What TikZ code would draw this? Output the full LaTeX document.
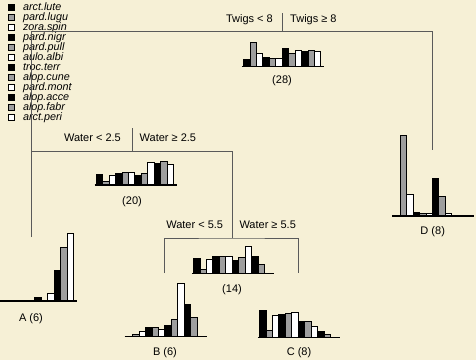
\documentclass[tikz,border=0pt]{standalone}
\usepackage{fontspec}
\setmainfont{Liberation Sans}
\usetikzlibrary{positioning}

\definecolor{paper}{RGB}{246,240,214}
\definecolor{stipple}{RGB}{158,158,158}
\definecolor{branchgray}{RGB}{90,90,90}

% one histogram: name, x, y of baseline, 12 bar heights
\newcommand{\histo}[4]{%
  \coordinate (#1) at (#2,#3);
  \foreach \h [count=\idx from 0] in {#4} {%
    \pgfmathtruncatemacro{\tone}{mod(\idx,3)}%
    \ifdim\h pt>0pt \draw[bar\tone] ([xshift={\idx*6.45pt}]#1) rectangle ++(6.45,-\h);\fi
  }
  \draw[histaxis] ([xshift=-1.5pt]#1) -- ++(82,0);
}

\begin{document}
\begin{tikzpicture}[x=1pt,y=-1pt,
  branch/.style={draw=branchgray,line width=0.8pt},
  histaxis/.style={draw=black,line width=1.3pt},
  bar0/.style={draw=black,line width=0.5pt,fill=black},
  bar1/.style={draw=black,line width=0.5pt,fill=stipple},
  bar2/.style={draw=black,line width=0.5pt,fill=white},
  splitlabel/.style={inner sep=0pt,font=\fontsize{11}{13}\selectfont},
  ncount/.style={inner sep=0pt,anchor=base,font=\fontsize{11}{13}\selectfont},
  legbox/.style={minimum size=6.5pt,inner sep=0pt},
  legtext/.style={inner sep=0pt,font=\fontsize{10.8}{12}\selectfont\itshape,text height=7.5pt,text depth=0pt}]
  \path[use as bounding box,fill=paper] (0,0) rectangle (476,360);
  \clip (0,0) rectangle (476,360);

  % legend
  \foreach \spname [count=\idx from 0] in {arct.lute,pard.lugu,zora.spin,pard.nigr,pard.pull,aulo.albi,troc.terr,alop.cune,pard.mont,alop.acce,alop.fabr,arct.peri} {
    \pgfmathtruncatemacro{\tone}{mod(\idx,3)}
    \node[legbox,bar\tone] (box\idx) at (11.3,{7+10*\idx}) {};
    \node[legtext,right=8pt of box\idx] (sp\idx) {\spname};
  }

  % tree
  \coordinate (twigs) at (282,31);
  \coordinate (twigstop) at (282,13);
  \coordinate (water25) at (132,151);
  \coordinate (water25top) at (132,128);
  \coordinate (water55) at (232,238);
  \coordinate (leafA) at (31,237);
  \coordinate (leafB) at (164,273);
  \coordinate (leafC) at (298,273);
  \coordinate (leafD) at (432,150);
  \draw[branch] (leafA) -- (leafA |- twigs) -- (leafD |- twigs) -- (leafD);
  \draw[branch] (twigstop) -- (twigs);
  \draw[branch] (leafA |- water25) -- (water55 |- water25) -- (water55);
  \draw[branch] (water25top) -- (water25);
  \draw[branch] (leafB) |- (water55) -| (leafC);

  \node[splitlabel,anchor=base east] (twigsL) at (273,22) {Twigs < 8};
  \node[splitlabel,anchor=base west] (twigsR) at (290,22) {Twigs ≥ 8};
  \node[splitlabel,anchor=base east] (water25L) at (121,141) {Water < 2.5};
  \node[splitlabel,anchor=base west] (water25R) at (139.5,141) {Water ≥ 2.5};
  \node[splitlabel,anchor=base east] (water55L) at (223.3,228.5) {Water < 5.5};
  \node[splitlabel,anchor=base west] (water55R) at (239.3,228.5) {Water ≥ 5.5};

  % histograms
  \histo{hroot}{243.3}{66.3}{7.3,24.3,13,9,8.3,8.3,17.7,13,16,14.7,16,14.7}
  \histo{h20}{96}{185}{10.7,3.3,10,11.7,12.3,12.3,10,11.7,22.3,21.7,23.3,21}
  \histo{h14}{193.3}{273.3}{15,4,14,16.7,17.3,16.7,13.3,16,27.3,16.7,9.3,0}
  \histo{hA}{-4}{301}{0,1.2,0,0,0,0,3.3,0,7.3,30.7,54,68}
  \histo{hB}{126}{336.7}{0,2.3,5,9.3,9.7,7.3,11,17.7,53.3,32.7,19.3,0}
  \histo{hC}{259.3}{337.3}{27.3,7.3,21.7,23.3,24.3,25,16.3,16.3,10.7,5.7,3.3,0}
  \histo{hD}{393.5}{216}{0,81,21.7,3.3,2.3,2.3,37.7,19.3,2.7,0,0,0}

  \node[ncount] (n28) at (282,83.5) {(28)};
  \node[ncount] (n20) at (132,204) {(20)};
  \node[ncount] (n14) at (232,292) {(14)};
  \node[ncount] (nA) at (31,321.5) {A (6)};
  \node[ncount] (nB) at (165,355.5) {B (6)};
  \node[ncount] (nC) at (299,355.5) {C (8)};
  \node[ncount] (nD) at (432.7,234) {D (8)};
\end{tikzpicture}
\end{document}
